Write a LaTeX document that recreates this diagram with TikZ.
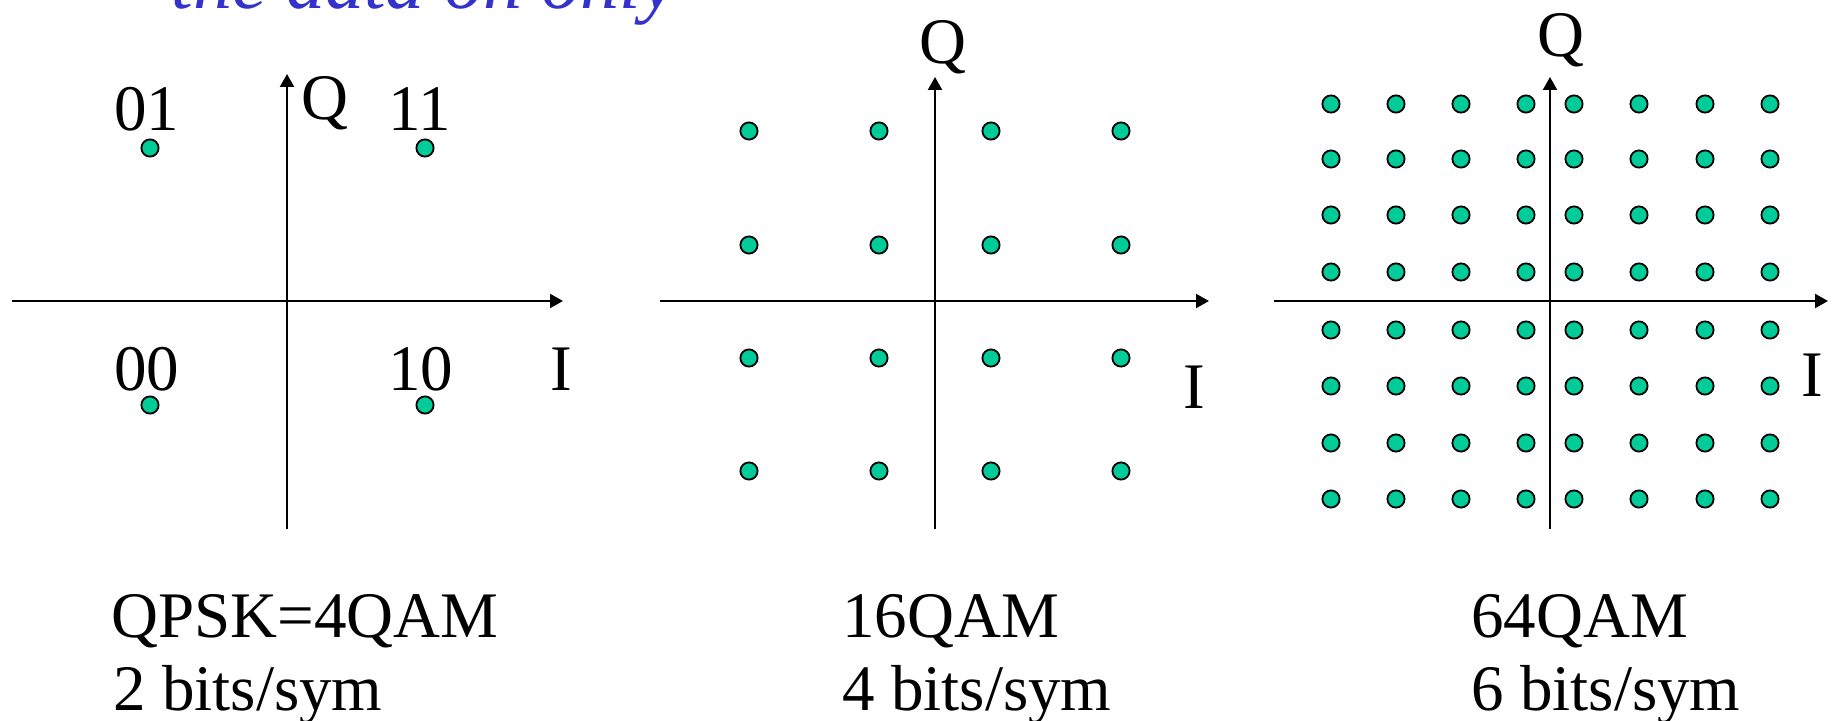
\documentclass[tikz,border=0pt]{standalone}
\usepackage{fontspec}
\setmainfont{Liberation Serif}
\usetikzlibrary{arrows.meta}
\definecolor{dotgreen}{RGB}{0,204,153}
\definecolor{headblue}{RGB}{51,51,204}

\begin{document}
\begin{tikzpicture}[x=0.5pt, y=-0.5pt, >={Triangle[length=6.5pt,width=7pt]},
    axis/.style={->, line width=1.1pt},
    pt/.style={circle, draw=black, line width=0.9pt, fill=dotgreen, minimum size=8.6pt, inner sep=0pt},
    lbl/.style={anchor=base west, inner sep=0pt, font=\fontsize{32.5}{38}\selectfont}]
	\useasboundingbox (0,0) rectangle (1832,721);
	% heading, cut by the top edge
	\begin{scope}
		\clip (0,0) rectangle (1832,721);
		\node[lbl, text=headblue, font=\fontsize{39}{46}\selectfont\itshape] (head) at (171,9) {the data on only};
	\end{scope}
	% QPSK
	\coordinate (qW) at (12,301);
	\coordinate (qE) at (563,301);
	\coordinate (qS) at (287,529);
	\coordinate (qN) at (287,74);
	\draw[axis] (qW) -- (qE);
	\draw[axis] (qS) -- (qN);
	\node[lbl] (qQ) at (301,120) {Q};
	\node[lbl] (qI) at (550,391) {I};
	\node[pt] (q01) at (150,148) {};
	\node[pt] (q11) at (425,148) {};
	\node[pt] (q00) at (150,405) {};
	\node[pt] (q10) at (425,405) {};
	\node[lbl] (l01) at (114,131) {01};
	\node[lbl] (l11) at (388,131) {11};
	\node[lbl] (l00) at (114,391) {00};
	\node[lbl] (l10) at (388,391) {10};
	% 16QAM
	\coordinate (sW) at (660,301);
	\coordinate (sE) at (1209,301);
	\coordinate (sS) at (935,529);
	\coordinate (sN) at (935,77);
	\draw[axis] (sW) -- (sE);
	\draw[axis] (sS) -- (sN);
	\node[lbl] (sQ) at (919,64) {Q};
	\node[lbl] (sI) at (1183,409) {I};
	\foreach \x [count=\i] in {749,879,991,1121}
		\foreach \y [count=\j] in {131,245,358,471}
			\node[pt] (s\i\j) at (\x,\y) {};
	% 64QAM
	\coordinate (tW) at (1274,301);
	\coordinate (tE) at (1828,301);
	\coordinate (tS) at (1550,529);
	\coordinate (tN) at (1550,77);
	\draw[axis] (tW) -- (tE);
	\draw[axis] (tS) -- (tN);
	\node[lbl] (tQ) at (1537,57) {Q};
	\node[lbl] (tI) at (1801,397) {I};
	\foreach \x [count=\i] in {1331,1396,1461,1526,1574,1639,1705,1770}
		\foreach \y [count=\j] in {104,159,215,272,330,386,443,499}
			\node[pt] (t\i\j) at (\x,\y) {};
	% captions
	\node[lbl] (qName) at (111,637) {QPSK=4QAM};
	\node[lbl] (qBits) at (113,710) {2 bits/sym};
	\node[lbl] (sName) at (842,637) {16QAM};
	\node[lbl] (sBits) at (842,710) {4 bits/sym};
	\node[lbl] (tName) at (1471,637) {64QAM};
	\node[lbl] (tBits) at (1471,710) {6 bits/sym};
\end{tikzpicture}
\end{document}
